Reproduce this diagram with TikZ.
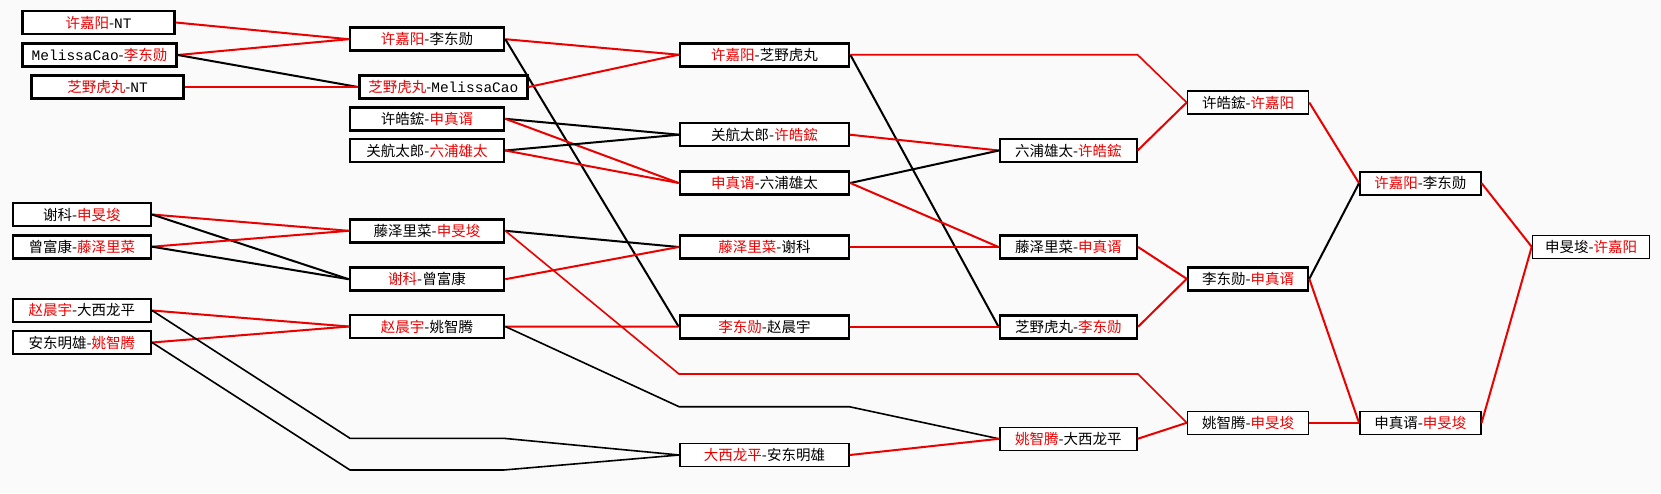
\documentclass[tikz,border=0pt]{standalone}
\usepackage{color}
\usepackage{fontspec}
\usepackage{tikz}
\setmainfont{Noto Sans CJK SC}
\newfontfamily\latinmono{Liberation Mono}
\definecolor{winred}{RGB}{235,0,0}
\definecolor{paper}{RGB}{250,250,250}
\newcommand{\wn}[1]{{\color{winred}#1}}
\newcommand{\lat}[1]{{\latinmono #1}}

\begin{document}
\begin{tikzpicture}[x=1pt, y=-1pt,
win_box/.style={rectangle,draw=black,fill=white,line width=2.6pt,inner sep=0pt,minimum height=23pt,font=\fontsize{14.5}{17}\selectfont},
plain_box/.style={win_box},
thin_box/.style={plain_box,line width=1.6pt},
red_edge/.style={draw=winred, line width=2pt},
black_edge/.style={draw=black, line width=2pt},
route_edge/.style={line width=1.6pt}]

\fill[paper] (0,0) rectangle (1661,493);
\useasboundingbox (0,0) rectangle (1661,493);

% round 1
\node[win_box,minimum width=152pt] (a1) at (98.5,22.5) {\wn{许嘉阳}-\lat{NT}};
\node[win_box,minimum width=154pt] (a2) at (99.5,55) {\lat{MelissaCao}-\wn{李东勋}};
\node[win_box,minimum width=152pt] (a3) at (107.5,87) {\wn{芝野虎丸}-\lat{NT}};
\node[win_box,minimum width=138pt] (a4) at (81.8,214.5) {谢科-\wn{申旻埈}};
\node[win_box,minimum width=138pt] (a5) at (81.8,246.7) {曾富康-\wn{藤泽里菜}};
\node[win_box,minimum width=138pt] (a6) at (81.8,310.5) {\wn{赵晨宇}-大西龙平};
\node[win_box,minimum width=138pt] (a7) at (81.8,342.5) {安东明雄-\wn{姚智腾}};

% round 2
\node[win_box,minimum width=154pt] (b1) at (427,39.2) {\wn{许嘉阳}-李东勋};
\node[win_box,minimum width=168pt] (b2) at (443.3,87) {\wn{芝野虎丸}-\lat{MelissaCao}};
\node[win_box,minimum width=154pt] (b3) at (427,118.8) {许皓鋐-\wn{申真谞}};
\node[win_box,minimum width=154pt] (b4) at (427,150.5) {关航太郎-\wn{六浦雄太}};
\node[win_box,minimum width=154pt] (b5) at (427,230.8) {藤泽里菜-\wn{申旻埈}};
\node[plain_box,minimum width=154pt] (b6) at (427,279.2) {\wn{谢科}-曾富康};
\node[win_box,minimum width=154pt] (b7) at (427,326.5) {\wn{赵晨宇}-姚智腾};

% round 3
\node[win_box,minimum width=169pt] (c1) at (764.5,54.7) {\wn{许嘉阳}-芝野虎丸};
\node[thin_box,minimum width=169pt] (c2) at (764.5,134.7) {关航太郎-\wn{许皓鋐}};
\node[win_box,minimum width=169pt] (c3) at (764.5,183) {\wn{申真谞}-六浦雄太};
\node[plain_box,minimum width=169pt] (c4) at (764.5,247) {\wn{藤泽里菜}-谢科};
\node[plain_box,minimum width=169pt] (c5) at (764.5,326.7) {\wn{李东勋}-赵晨宇};
\node[thin_box,minimum width=169pt] (c6) at (764.5,455) {\wn{大西龙平}-安东明雄};

% round 4
\node[thin_box,minimum width=137pt] (d1) at (1068.3,150.5) {六浦雄太-\wn{许皓鋐}};
\node[plain_box,minimum width=137pt] (d2) at (1068.3,247) {藤泽里菜-\wn{申真谞}};
\node[plain_box,minimum width=137pt] (d3) at (1068.3,326.7) {芝野虎丸-\wn{李东勋}};
\node[thin_box,minimum width=137pt] (d4) at (1068.3,438.8) {\wn{姚智腾}-大西龙平};

% round 5 to final
\node[thin_box,minimum width=121pt] (e1) at (1248,102.5) {许皓鋐-\wn{许嘉阳}};
\node[win_box,minimum width=120pt] (e2) at (1248,278.8) {李东勋-\wn{申真谞}};
\node[thin_box,minimum width=121pt] (e3) at (1248,422.8) {姚智腾-\wn{申旻埈}};
\node[thin_box,minimum width=121pt] (f1) at (1420.3,183.2) {\wn{许嘉阳}-李东勋};
\node[thin_box,minimum width=121pt] (f2) at (1420.3,422.8) {申真谞-\wn{申旻埈}};
\node[thin_box,minimum width=117pt] (g1) at (1591,246.8) {申旻埈-\wn{许嘉阳}};

% bends of the long links
\coordinate (r1a) at (1137.5,54.7);
\coordinate (r2a) at (679,374);
\coordinate (r2b) at (1138,374);
\coordinate (r3a) at (679,406.7);
\coordinate (r3b) at (849.3,406.7);
\coordinate (r4a) at (350,438.3);
\coordinate (r4b) at (503.6,438.3);
\coordinate (r5a) at (350,470);
\coordinate (r5b) at (503.6,470);

\draw[red_edge] (a1.east) -- (b1.west);
\draw[red_edge] (a2.east) -- (b1.west);
\draw[black_edge] (a2.east) -- (b2.west);
\draw[red_edge] (a3.east) -- (b2.west);
\draw[red_edge] (a4.east) -- (b5.west);
\draw[black_edge] (a4.east) -- (b6.west);
\draw[red_edge] (a5.east) -- (b5.west);
\draw[black_edge] (a5.east) -- (b6.west);
\draw[red_edge] (a6.east) -- (b7.west);
\draw[red_edge] (a7.east) -- (b7.west);
\draw[black_edge,route_edge] (a6.east) -- (r4a) -- (r4b) -- (c6.west);
\draw[black_edge,route_edge] (a7.east) -- (r5a) -- (r5b) -- (c6.west);

\draw[red_edge] (b1.east) -- (c1.west);
\draw[black_edge] (b1.east) -- (c5.west);
\draw[red_edge] (b2.east) -- (c1.west);
\draw[black_edge] (b3.east) -- (c2.west);
\draw[red_edge] (b3.east) -- (c3.west);
\draw[black_edge] (b4.east) -- (c2.west);
\draw[red_edge] (b4.east) -- (c3.west);
\draw[black_edge] (b5.east) -- (c4.west);
\draw[red_edge,route_edge] (b5.east) -- (r2a) -- (r2b) -- (e3.west);
\draw[red_edge] (b6.east) -- (c4.west);
\draw[red_edge] (b7.east) -- (c5.west);
\draw[black_edge,route_edge] (b7.east) -- (r3a) -- (r3b) -- (d4.west);

\draw[black_edge] (c1.east) -- (d3.west);
\draw[red_edge,route_edge] (c1.east) -- (r1a) -- (e1.west);
\draw[red_edge] (c2.east) -- (d1.west);
\draw[black_edge] (c3.east) -- (d1.west);
\draw[red_edge] (c3.east) -- (d2.west);
\draw[red_edge] (c4.east) -- (d2.west);
\draw[red_edge] (c5.east) -- (d3.west);
\draw[red_edge] (c6.east) -- (d4.west);

\draw[red_edge] (d1.east) -- (e1.west);
\draw[red_edge] (d2.east) -- (e2.west);
\draw[red_edge] (d3.east) -- (e2.west);
\draw[red_edge] (d4.east) -- (e3.west);

\draw[red_edge] (e1.east) -- (f1.west);
\draw[black_edge] (e2.east) -- (f1.west);
\draw[red_edge] (e2.east) -- (f2.west);
\draw[red_edge] (e3.east) -- (f2.west);

\draw[red_edge] (f1.east) -- (g1.west);
\draw[red_edge] (f2.east) -- (g1.west);

\end{tikzpicture}
\end{document}
